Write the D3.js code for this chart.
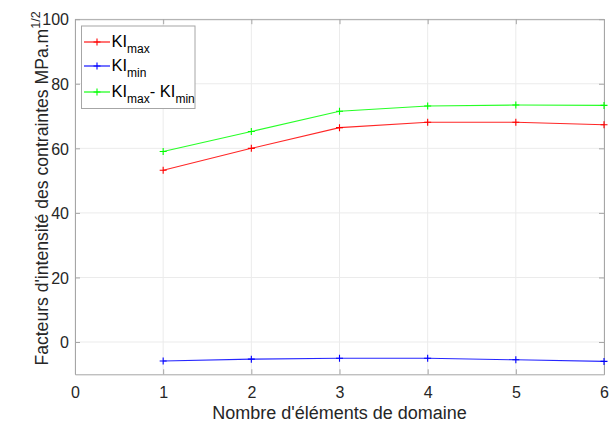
<!DOCTYPE html>
<html><head><meta charset="utf-8">
<script src="https://cdn.jsdelivr.net/npm/d3@7"></script>
<style>body{margin:0;background:#fff;} text{font-family:Arial,"Liberation Sans",Helvetica,sans-serif;}</style>
</head><body>
<svg id="c" width="611" height="426"></svg>
<script>
const xValues = [1, 2, 3, 4, 5, 6];
const kiMax = [53.2, 60.0, 66.4, 68.1, 68.1, 67.3];
const kiMin = [-5.9, -5.3, -5.05, -5.05, -5.5, -6.0];
const kiDiff = [59.0, 65.2, 71.5, 73.1, 73.4, 73.3];
const xTicks = [0, 1, 2, 3, 4, 5, 6];
const yTicks = [0, 20, 40, 60, 80, 100];

const svg = d3.select("#c");
const L = 75, R = 604, T = 19.2, B = 374.3;
const x = d3.scaleLinear().domain([0, 6]).range([L, R]);
const y = d3.scaleLinear().domain([-10, 100]).range([B, T]);
const axisCol = "#a6a6a6", textCol = "#262626";

// grid
const g = svg.append("g");
g.selectAll(".gx").data(xTicks).join("line")
  .attr("x1", d => x(d)).attr("x2", d => x(d)).attr("y1", T).attr("y2", B)
  .attr("stroke", "#ebebeb").attr("stroke-width", 1);
g.selectAll(".gy").data(yTicks).join("line")
  .attr("x1", L).attr("x2", R).attr("y1", d => y(d)).attr("y2", d => y(d))
  .attr("stroke", "#ebebeb").attr("stroke-width", 1);

// axes
const xAxis = d3.axisBottom(x).tickValues(xTicks).tickFormat(d3.format("d")).tickSizeInner(-5).tickSizeOuter(0).tickPadding(12.5);
const yAxis = d3.axisLeft(y).tickValues(yTicks).tickFormat(d3.format("d")).tickSizeInner(-5).tickSizeOuter(0).tickPadding(6);
const gx = svg.append("g").attr("transform", `translate(0,${B})`).call(xAxis);
const gy = svg.append("g").attr("transform", `translate(${L},0)`).call(yAxis);
const xTop = d3.axisTop(x).tickValues(xTicks).tickSizeInner(-5).tickSizeOuter(0).tickFormat("");
const yRight = d3.axisRight(y).tickValues(yTicks).tickSizeInner(-5).tickSizeOuter(0).tickFormat("");
const gxt = svg.append("g").attr("transform", `translate(0,${T})`).call(xTop);
const gyr = svg.append("g").attr("transform", `translate(${R},0)`).call(yRight);
[gx, gy, gxt, gyr].forEach(a => {
  a.select(".domain").attr("stroke", axisCol);
  a.selectAll(".tick line").attr("stroke", axisCol);
  a.selectAll(".tick text").attr("fill", textCol).attr("font-size", 16).attr("font-family", "Arial, 'Liberation Sans', sans-serif");
});
gy.selectAll(".tick text").attr("dy", "0.36em");

// lines
const series = [
  {vals: kiMax, color: "#ff0000"},
  {vals: kiMin, color: "#0000ff"},
  {vals: kiDiff, color: "#00ff00"}
];
const line = d3.line().x((d, i) => x(xValues[i])).y(d => y(d));
series.forEach(s => {
  svg.append("path").datum(s.vals).attr("d", line)
    .attr("fill", "none").attr("stroke", s.color).attr("stroke-width", 1.1).attr("stroke-opacity", 0.85);
  svg.append("g").selectAll("path").data(s.vals).join("path")
    .attr("d", (d, i) => `M${x(xValues[i]) - 3.5},${y(d)}h7M${x(xValues[i])},${y(d) - 3.5}v7`)
    .attr("stroke", s.color).attr("stroke-width", 1.1);
});

// labels
svg.append("text").attr("x", (L + R) / 2).attr("y", 419).attr("text-anchor", "middle")
  .attr("fill", textCol).attr("font-size", 18).text("Nombre d'éléments de domaine");
const yl = svg.append("text").attr("transform", `translate(48,188.5) rotate(-90)`)
  .attr("text-anchor", "middle").attr("fill", textCol).attr("font-size", 17.6);
yl.append("tspan").text("Facteurs d'intensité des contraintes MPa.m");
yl.append("tspan").attr("font-size", 12.5).attr("dy", -8).text("1/2");

// legend
const lg = svg.append("g");
lg.append("rect").attr("x", 81.5).attr("y", 26).attr("width", 113.5).attr("height", 82.5)
  .attr("fill", "#fff").attr("stroke", axisCol).attr("stroke-width", 1);
const labels = [["max", null], ["min", null], ["max", "min"]];
const rowsY = [42, 66, 92];
series.forEach((s, i) => {
  const yy = rowsY[i];
  lg.append("line").attr("x1", 84).attr("x2", 110).attr("y1", yy).attr("y2", yy)
    .attr("stroke", s.color).attr("stroke-width", 1.1);
  lg.append("path").attr("d", `M93.5,${yy}h7M97,${yy - 3.5}v7`).attr("stroke", s.color).attr("stroke-width", 1.1);
  const t = lg.append("text").attr("x", 111.5).attr("y", yy + 5).attr("fill", "#000").attr("font-size", 16.5);
  t.append("tspan").text("KI");
  t.append("tspan").attr("font-size", 12).attr("dy", 6).text(labels[i][0]);
  if (labels[i][1]) {
    t.append("tspan").attr("dy", -6).text("- KI");
    t.append("tspan").attr("font-size", 12).attr("dy", 6).text(labels[i][1]);
  }
});
</script>
</body></html>
